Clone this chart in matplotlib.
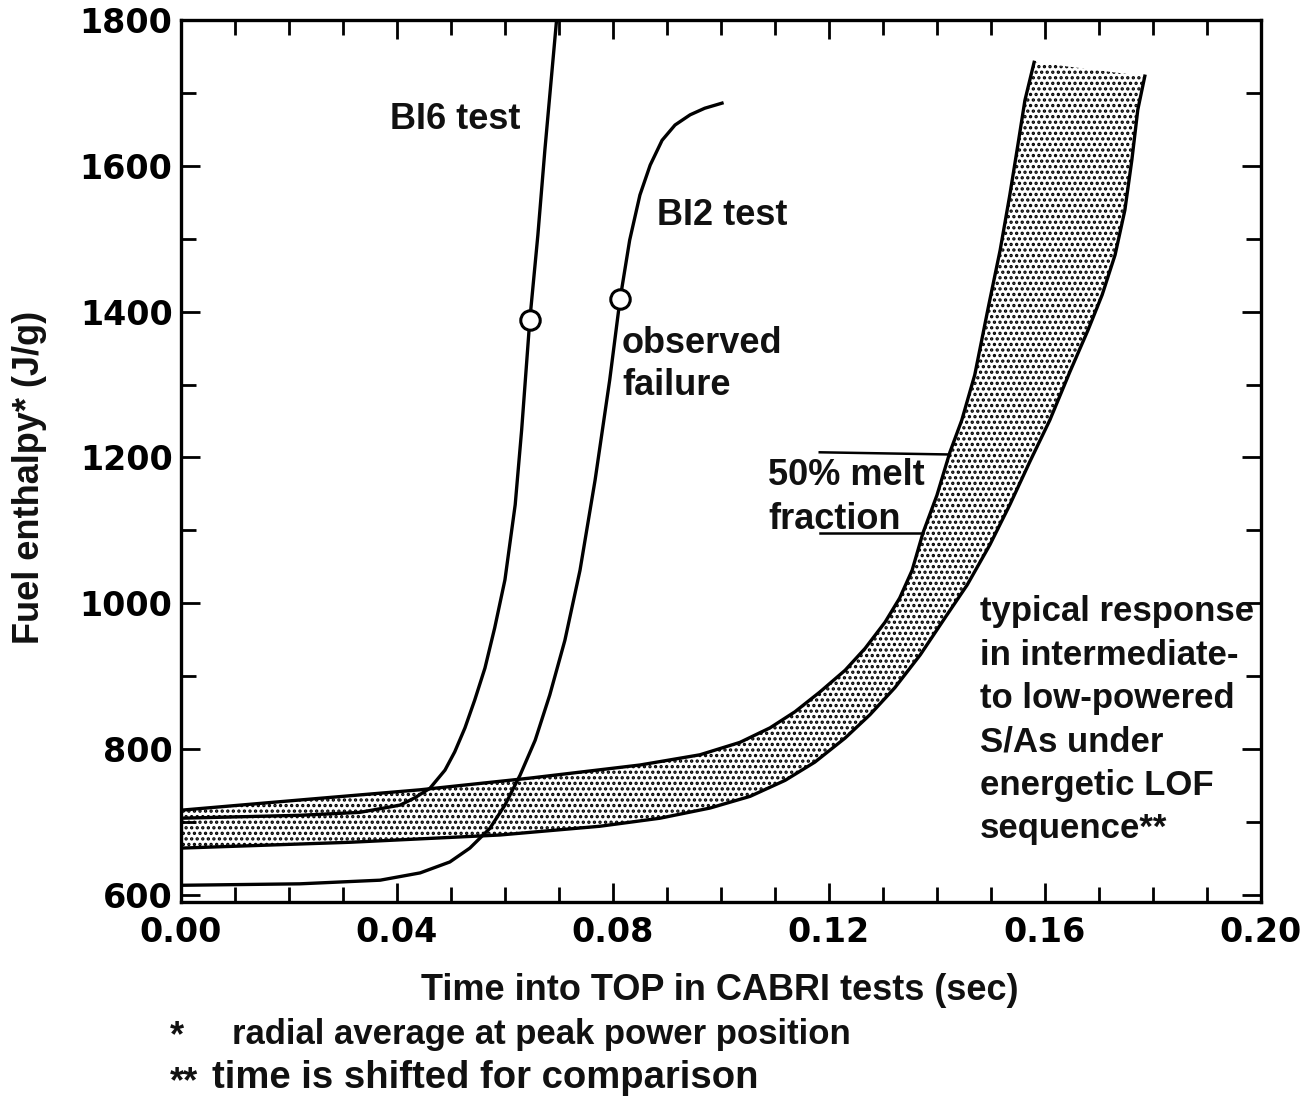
import numpy as np
import matplotlib
matplotlib.use("Agg")
import matplotlib.pyplot as plt
from matplotlib.ticker import MultipleLocator, FormatStrFormatter

# BI6 test curve (time s, enthalpy J/g)
bi6_t = [0.0, 0.0220, 0.0331, 0.0406, 0.0433, 0.0461, 0.0489, 0.0507, 0.0526, 0.0544, 0.0563,
         0.0581, 0.0600, 0.0619, 0.0631, 0.0646, 0.0661, 0.0674, 0.0696]
bi6_h = [705, 709, 713, 723, 733, 746, 771, 796, 829, 867, 911,
         966, 1032, 1135, 1238, 1388, 1505, 1622, 1803]

# BI2 test curve
bi2_t = [0.0, 0.0220, 0.0369, 0.0443, 0.0498, 0.0535, 0.0572, 0.0600, 0.0628, 0.0656, 0.0683, 0.0711,
         0.0739, 0.0767, 0.0794, 0.0813, 0.0831, 0.0850, 0.0869, 0.0891, 0.0915, 0.0943, 0.0970, 0.1002]
bi2_h = [613, 615, 620, 630, 645, 664, 691, 723, 764, 812, 874, 949,
         1045, 1169, 1306, 1416, 1498, 1560, 1601, 1635, 1656, 1670, 1679, 1686]

# observed failure points
fail_t = [0.0646, 0.0813]
fail_h = [1388, 1417]

# typical LOF response band: upper/left edge and lower/right edge
band_up_t = [0.0, 0.0220, 0.0443, 0.0646, 0.0850, 0.0961, 0.1035, 0.1091, 0.1137, 0.1183, 0.1230,
             0.1267, 0.1304, 0.1331, 0.1354, 0.1374, 0.1400, 0.1424, 0.1446, 0.1470, 0.1496,
             0.1517, 0.1535, 0.1550, 0.1563, 0.1580]
band_up_h = [716, 730, 744, 760, 778, 792, 809, 829, 851, 878, 908,
             938, 974, 1007, 1045, 1096, 1148, 1207, 1251, 1313, 1409,
             1484, 1560, 1629, 1690, 1742]
band_lo_t = [0.0, 0.0313, 0.0591, 0.0776, 0.0887, 0.0980, 0.1054, 0.1119, 0.1174, 0.1230, 0.1276,
             0.1322, 0.1369, 0.1415, 0.1456, 0.1498, 0.1535, 0.1572, 0.1609, 0.1646, 0.1680,
             0.1706, 0.1730, 0.1748, 0.1761, 0.1772, 0.1785]
band_lo_h = [664, 672, 682, 694, 705, 719, 735, 757, 782, 815, 847,
             884, 929, 980, 1025, 1080, 1135, 1194, 1251, 1317, 1375,
             1423, 1478, 1539, 1608, 1677, 1723]

# leader lines for "50% melt fraction"
melt_lines = [([0.1183, 0.1424], [1207, 1204]), ([0.1183, 0.1374], [1096, 1096])]

right_note = ["typical response", "in intermediate-", "to low-powered",
              "S/As under", "energetic LOF", "sequence**"]

plt.rcParams['font.family'] = ['Liberation Sans', 'DejaVu Sans']
plt.rcParams['hatch.color'] = 'black'
plt.rcParams['hatch.linewidth'] = 1.6

fig = plt.figure(figsize=(13.14, 11.01), dpi=100)
ax = fig.add_axes([0.1377, 0.1807, 0.8219, 0.8011])

# stippled band
poly_t = band_up_t + band_lo_t[::-1]
poly_h = band_up_h + band_lo_h[::-1]
ax.fill(poly_t, poly_h, facecolor='white', edgecolor='black', hatch='...', linewidth=0)
ax.plot(band_up_t, band_up_h, color='black', lw=2.4)
ax.plot(band_lo_t, band_lo_h, color='black', lw=2.4)

ax.plot(bi6_t, bi6_h, color='black', lw=2.4)
ax.plot(bi2_t, bi2_h, color='black', lw=2.4)
ax.plot(fail_t, fail_h, 'o', ms=14, mfc='white', mec='black', mew=2.2, zorder=5)

for xs, ys in melt_lines:
    ax.plot(xs, ys, color='black', lw=1.8)

ax.set_xlim(0, 0.20)
ax.set_ylim(590, 1800)
ax.xaxis.set_major_locator(MultipleLocator(0.04))
ax.xaxis.set_minor_locator(MultipleLocator(0.01))
ax.yaxis.set_minor_locator(MultipleLocator(100))
ax.xaxis.set_major_formatter(FormatStrFormatter('%.2f'))
ax.set_yticks([600, 800, 1000, 1200, 1400, 1600, 1800])
ax.tick_params(which='both', direction='in', top=True, right=True, width=2, color='black')
ax.tick_params(which='major', length=14)
ax.tick_params(which='minor', length=11)
ax.tick_params(axis='x', which='major', pad=10)
ax.tick_params(axis='y', which='major', pad=6)
for lab in ax.get_xticklabels() + ax.get_yticklabels():
    lab.set_fontfamily('DejaVu Sans')
    lab.set_fontweight('bold')
    lab.set_fontsize(24)
for sp in ax.spines.values():
    sp.set_linewidth(2.4)

tkw = dict(fontsize=26, fontweight='bold', color='#111111')
ax.text(0.0387, 1663, "BI6 test", va='center', ha='left', **tkw)
ax.text(0.0881, 1532, "BI2 test", va='center', ha='left', **tkw)
ax.text(0.0817, 1356, "observed", va='center', ha='left', **tkw)
ax.text(0.0817, 1299, "failure", va='center', ha='left', **tkw)
ax.text(0.1087, 1175, "50% melt", va='center', ha='left', **tkw)
ax.text(0.1087, 1115, "fraction", va='center', ha='left', **tkw)
for i, line in enumerate(right_note):
    ax.text(0.148, 988 - i * 59.4, line, va='center', ha='left', fontsize=25,
            fontweight='bold', color='#111111')

fig.text(0.0228, 0.566, "Fuel enthalpy* (J/g)", rotation=90, va='center', ha='center', **tkw)
fig.text(0.548, 0.1008, "Time into TOP in CABRI tests (sec)", va='center', ha='center', **tkw)
fig.text(0.129, 0.058, "*", va='center', ha='left', **tkw)
fig.text(0.1766, 0.060, "radial average at peak power position", va='center', ha='left',
         fontsize=25, fontweight='bold', color='#111111')
fig.text(0.129, 0.017, "**", va='center', ha='left', **tkw)
fig.text(0.1613, 0.021, "time is shifted for comparison", va='center', ha='left', fontsize=27.5,
         fontweight='bold', color='#111111')

fig.savefig("out.png", dpi=100)
